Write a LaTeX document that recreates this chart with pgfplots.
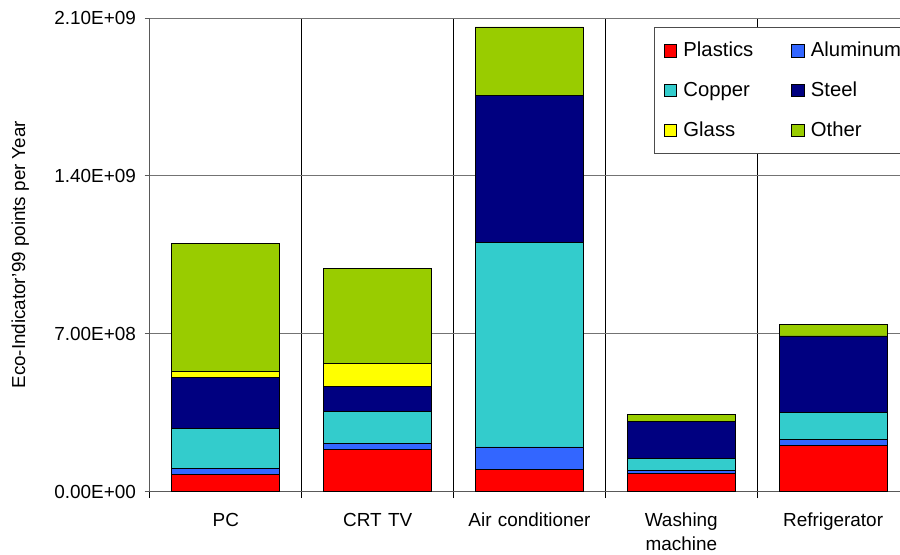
\documentclass[border=0pt]{standalone}
\usepackage{pgfplots}
\pgfplotsset{compat=1.18}
\usepackage{fontspec}
\setmainfont{Liberation Sans}

\definecolor{cPlastics}{HTML}{FF0000}
\definecolor{cAlu}{HTML}{3366FF}
\definecolor{cCopper}{HTML}{33CCCC}
\definecolor{cSteel}{HTML}{000080}
\definecolor{cGlass}{HTML}{FFFF00}
\definecolor{cOther}{HTML}{99CC00}

\begin{document}
\begin{tikzpicture}
\begin{axis}[
  at={(0,0)}, anchor=south west,
  scale only axis, width=569.25pt, height=355.1pt,
  ybar stacked, bar width=81pt,
  xmin=-0.5, xmax=4.5, ymin=0, ymax=2.1e9,
  axis x line*=bottom, axis y line*=left,
  axis line style={black!65, line width=0.75pt},
  tick align=outside,
  xtick={0,...,4},
  xticklabels={PC,CRT TV,Air conditioner,Washing machine,Refrigerator},
  major x tick style={draw=none},
  minor xtick={-0.5,0.5,1.5,2.5,3.5,4.5},
  minor tick length=5pt,
  minor x tick style={black, line width=0.75pt},
  xminorgrids, minor x grid style={black, line width=0.75pt},
  xticklabel style={text width=100pt, align=center, font=\fontsize{14.2}{18}\selectfont, yshift=-8.5pt},
  ytick={0,7e8,1.4e9,2.1e9},
  yticklabels={0.00E+00,7.00E+08,1.40E+09,2.10E+09},
  scaled y ticks=false,
  major tick length=4pt,
  y tick style={black!65, line width=0.75pt},
  ymajorgrids, major y grid style={black!55, line width=0.75pt},
  yticklabel style={xshift=-3pt, font=\fontsize{14.2}{16}\selectfont},
  ylabel={Eco-Indicator'99 points per Year},
  ylabel style={at={(axis description cs:-0.171,0.5)}, anchor=center, font=\fontsize{14.1}{16}\selectfont},
  every axis plot/.append style={draw=black, line width=0.6pt},
  legend columns=2,
  legend cell align=left,
  legend style={at={(0.664,0.981)}, anchor=north west, draw=black!70, line width=0.75pt,
    font=\fontsize{15.2}{18}\selectfont,
    inner xsep=7pt, inner ysep=9pt, row sep=13.4pt,
    /tikz/every even column/.append style={column sep=26.5pt}},
  legend image code/.code={\path[draw=none, fill=none] (0pt,0pt) -- (12.5pt,0pt);
    \draw[#1, draw=black, line width=0.5pt] (0pt,-4.75pt) rectangle (9.5pt,4.75pt);},
]
% order: PC, CRT TV, Air conditioner, Washing machine, Refrigerator
\addplot[fill=cPlastics] coordinates {(0,7.7e7) (1,1.87e8) (2,9.85e7) (3,8.2e7) (4,2.05e8)};
\addplot[fill=cAlu] coordinates {(0,2.35e7) (1,2.66e7) (2,9.9e7) (3,1.2e7) (4,2.5e7)};
\addplot[fill=cCopper] coordinates {(0,1.79e8) (1,1.43e8) (2,9.06e8) (3,5.3e7) (4,1.22e8)};
\addplot[fill=cSteel] coordinates {(0,2.26e8) (1,1.10e8) (2,6.52e8) (3,1.64e8) (4,3.38e8)};
\addplot[fill=cGlass] coordinates {(0,2.66e7) (1,1.02e8) (2,0) (3,0) (4,0)};
\addplot[fill=cOther] coordinates {(0,5.69e8) (1,4.21e8) (2,3.05e8) (3,3.1e7) (4,5.2e7)};
\legend{Plastics,Aluminum,Copper,Steel,Glass,Other}
\end{axis}
\pgfresetboundingbox
\useasboundingbox (-112.5pt,-46.875pt) rectangle (562.5pt,368.625pt);
\end{tikzpicture}
\end{document}
